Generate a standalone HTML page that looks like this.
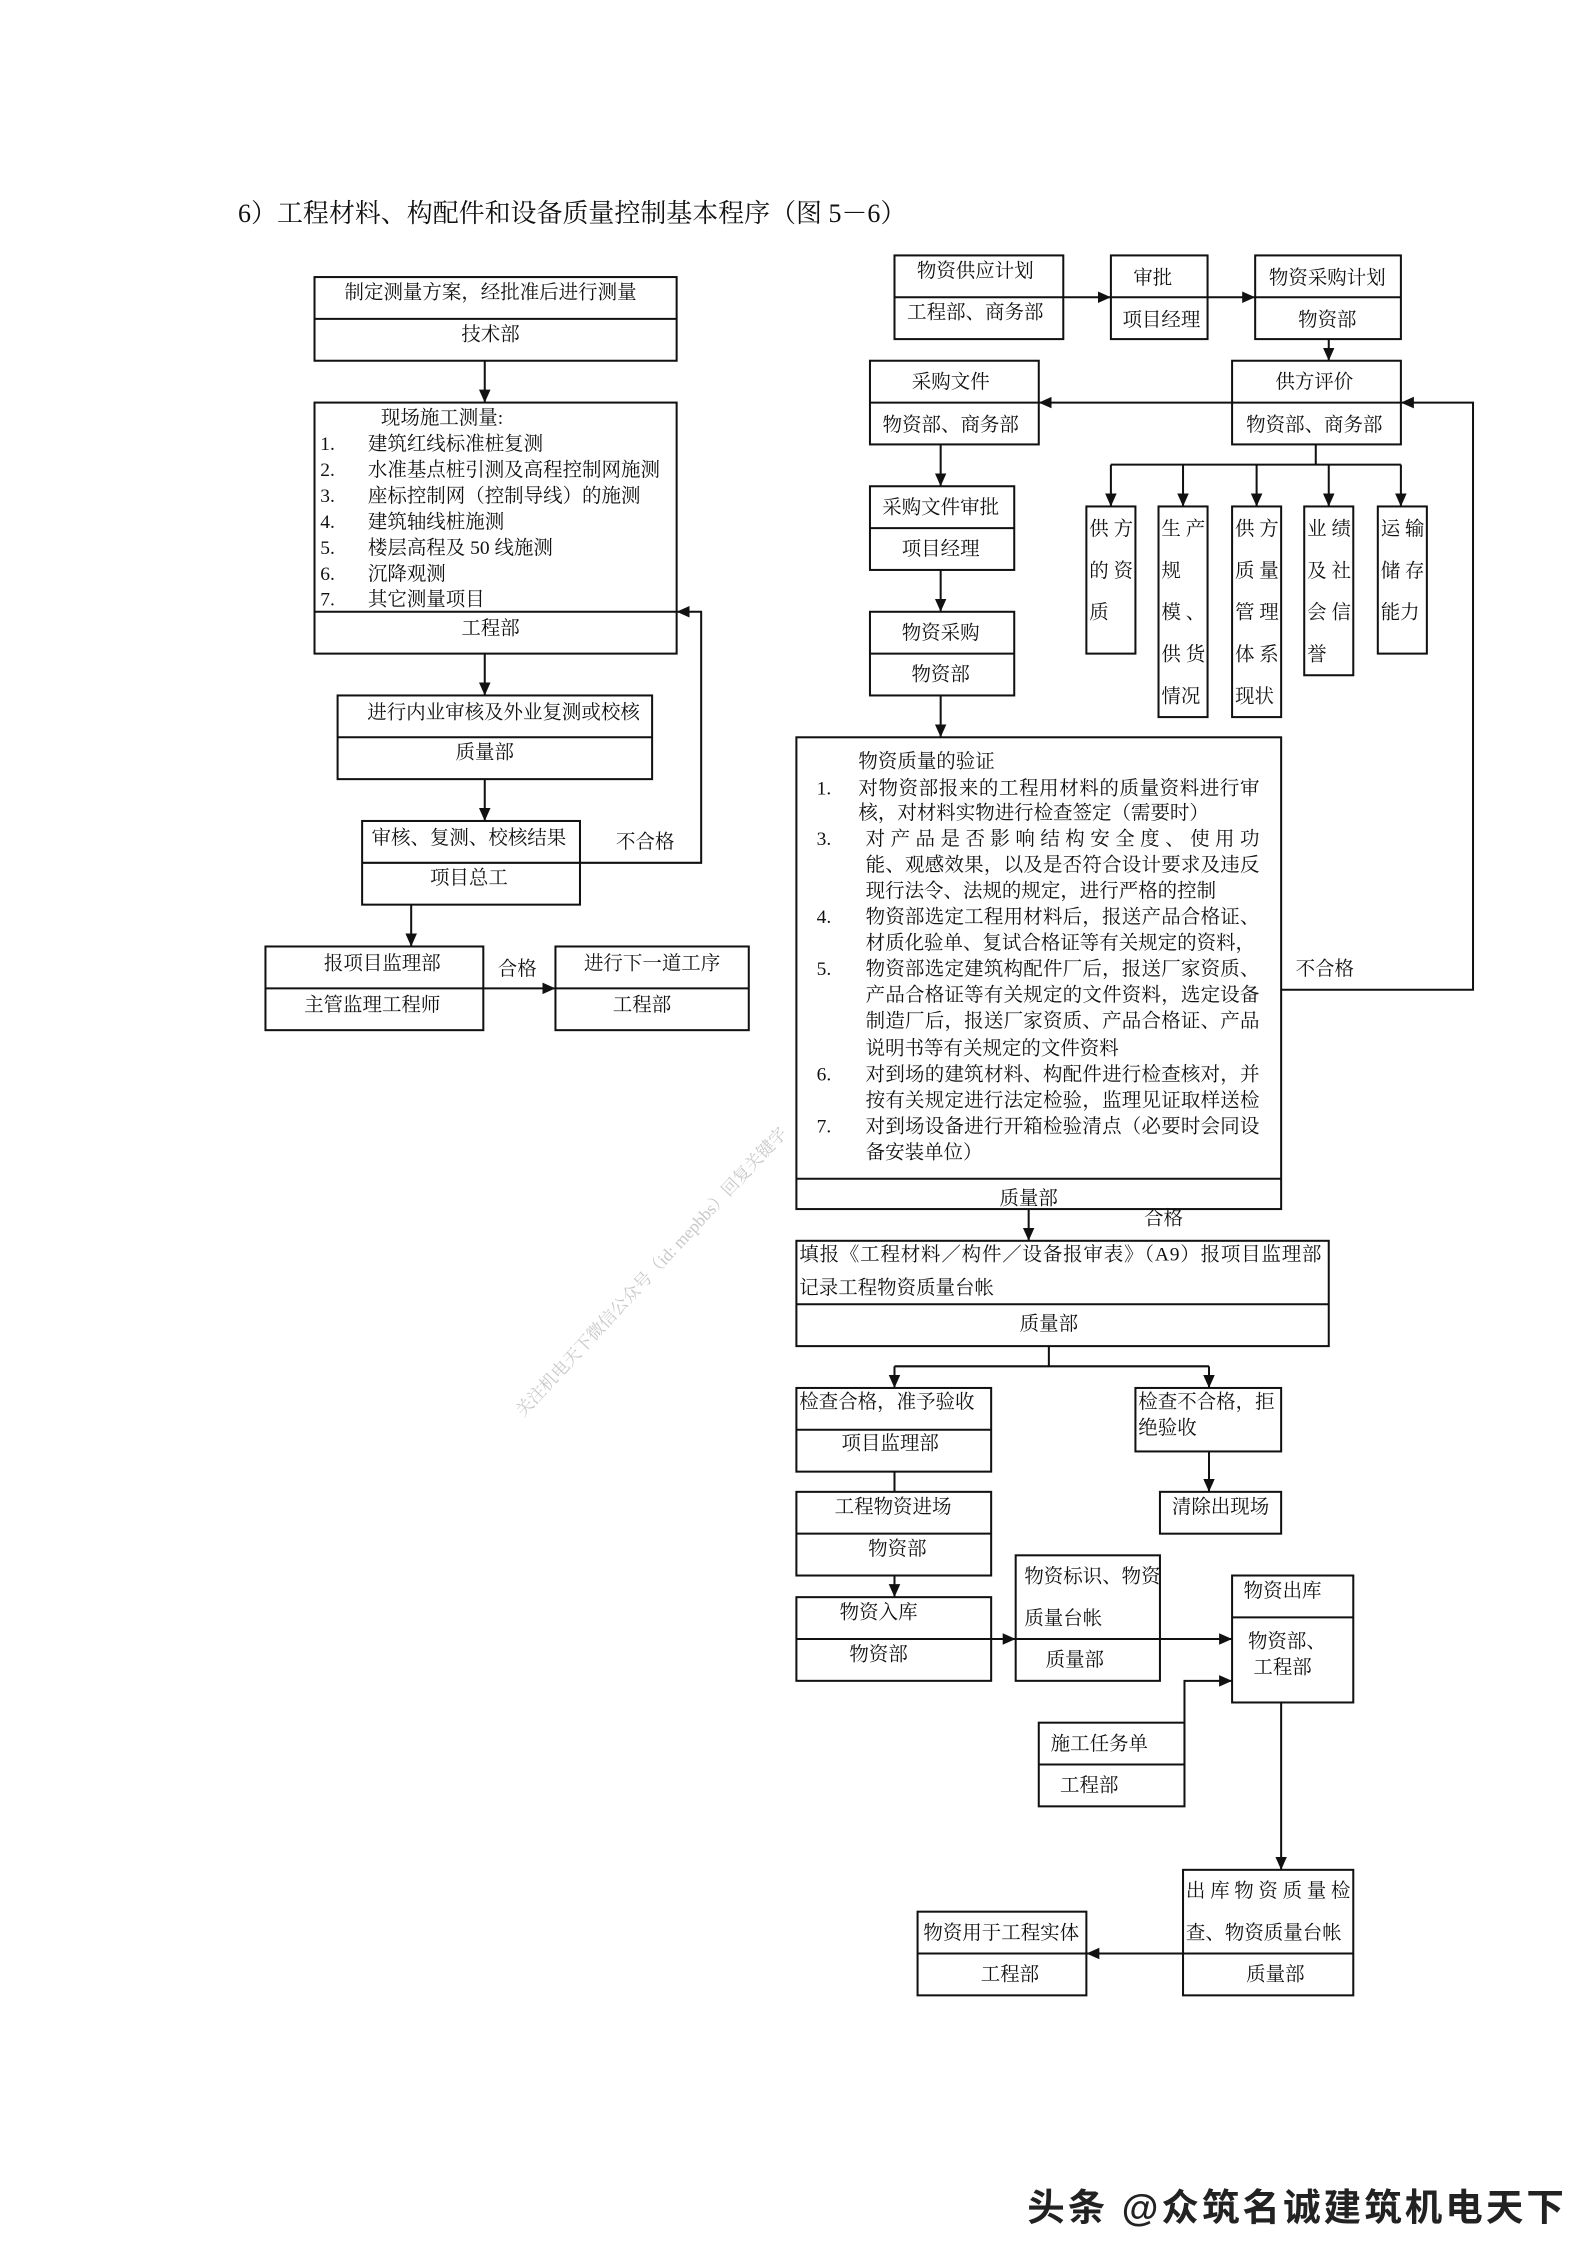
<!DOCTYPE html>
<html><head><meta charset="utf-8"><style>
html,body{margin:0;padding:0;background:#fff;}
svg{display:block;}
text{font-family:"Liberation Serif","Noto Serif CJK SC",serif;font-size:13.5px;fill:#111;dominant-baseline:central;}
.c{text-anchor:middle;}
rect{fill:none;stroke:#111;stroke-width:1.4;}
line,polyline{stroke:#111;stroke-width:1.4;fill:none;}
</style></head><body>
<svg width="1587" height="2245" viewBox="0 0 1100 1556" xmlns="http://www.w3.org/2000/svg">
<defs><marker id="a" markerWidth="10" markerHeight="10" refX="9" refY="5" orient="auto" markerUnits="userSpaceOnUse"><path d="M0,1 L9,5 L0,9 Z" fill="#111"/></marker></defs>
<text x="165" y="148" style="font-size:18px">6）工程材料、构配件和设备质量控制基本程序（图 5－6）</text>

<rect x="218" y="192" width="251" height="58"/><line x1="218" y1="221" x2="469" y2="221"/>
<text class="c" x="340" y="203">制定测量方案，经批准后进行测量</text><text class="c" x="340" y="232">技术部</text>
<line x1="336" y1="250" x2="336" y2="279" marker-end="url(#a)"/>
<rect x="218" y="279" width="251" height="174"/><line x1="218" y1="424" x2="469" y2="424"/>
<text x="264" y="290">现场施工测量:</text>
<text x="222" y="308">1.</text><text x="255" y="308">建筑红线标准桩复测</text>
<text x="222" y="326">2.</text><text x="255" y="326">水准基点桩引测及高程控制网施测</text>
<text x="222" y="344">3.</text><text x="255" y="344">座标控制网（控制导线）的施测</text>
<text x="222" y="362">4.</text><text x="255" y="362">建筑轴线桩施测</text>
<text x="222" y="380">5.</text><text x="255" y="380">楼层高程及 50 线施测</text>
<text x="222" y="398">6.</text><text x="255" y="398">沉降观测</text>
<text x="222" y="416">7.</text><text x="255" y="416">其它测量项目</text>
<text class="c" x="340" y="436">工程部</text>
<line x1="336" y1="453" x2="336" y2="482" marker-end="url(#a)"/>
<rect x="234" y="482" width="218" height="58"/><line x1="234" y1="511" x2="452" y2="511"/>
<text class="c" x="349" y="494">进行内业审核及外业复测或校核</text><text class="c" x="336" y="522">质量部</text>
<line x1="336" y1="540" x2="336" y2="569" marker-end="url(#a)"/>
<rect x="251" y="569" width="151" height="58"/><line x1="251" y1="598" x2="402" y2="598"/>
<text class="c" x="325" y="581">审核、复测、校核结果</text><text class="c" x="325" y="609">项目总工</text>
<polyline points="402,598 486,598 486,424 469,424" marker-end="url(#a)"/>
<text x="427" y="584">不合格</text>
<line x1="285" y1="627" x2="285" y2="656" marker-end="url(#a)"/>
<rect x="184" y="656" width="151" height="58"/><line x1="184" y1="685" x2="335" y2="685"/>
<text class="c" x="265" y="668">报项目监理部</text><text class="c" x="258" y="697">主管监理工程师</text>
<line x1="335" y1="685" x2="385" y2="685" marker-end="url(#a)"/><text x="345" y="672">合格</text>
<rect x="385" y="656" width="134" height="58"/><line x1="385" y1="685" x2="519" y2="685"/>
<text class="c" x="452" y="668">进行下一道工序</text><text class="c" x="445" y="697">工程部</text>

<rect x="620" y="177" width="117" height="58"/><line x1="620" y1="206" x2="737" y2="206"/>
<text class="c" x="676" y="188">物资供应计划</text><text class="c" x="676" y="217">工程部、商务部</text>
<line x1="737" y1="206" x2="770" y2="206" marker-end="url(#a)"/>
<rect x="770" y="177" width="67" height="58"/><line x1="770" y1="206" x2="837" y2="206"/>
<text class="c" x="799" y="193">审批</text><text class="c" x="805" y="222">项目经理</text>
<line x1="837" y1="206" x2="870" y2="206" marker-end="url(#a)"/>
<rect x="870" y="177" width="101" height="58"/><line x1="870" y1="206" x2="971" y2="206"/>
<text class="c" x="920" y="193">物资采购计划</text><text class="c" x="920" y="222">物资部</text>
<line x1="921" y1="235" x2="921" y2="250" marker-end="url(#a)"/>
<rect x="854" y="250" width="117" height="58"/><line x1="854" y1="279" x2="971" y2="279"/>
<text class="c" x="911" y="265">供方评价</text><text class="c" x="911" y="295">物资部、商务部</text>
<line x1="854" y1="279" x2="720" y2="279" marker-end="url(#a)"/>
<rect x="603" y="250" width="117" height="58"/><line x1="603" y1="279" x2="720" y2="279"/>
<text class="c" x="659" y="265">采购文件</text><text class="c" x="659" y="295">物资部、商务部</text>
<line x1="652" y1="308" x2="652" y2="337" marker-end="url(#a)"/>
<rect x="603" y="337" width="100" height="58"/><line x1="603" y1="366" x2="703" y2="366"/>
<text class="c" x="652" y="352">采购文件审批</text><text class="c" x="652" y="381">项目经理</text>
<line x1="652" y1="395" x2="652" y2="424" marker-end="url(#a)"/>
<rect x="603" y="424" width="100" height="58"/><line x1="603" y1="453" x2="703" y2="453"/>
<text class="c" x="652" y="439">物资采购</text><text class="c" x="652" y="468">物资部</text>
<line x1="652" y1="482" x2="652" y2="511" marker-end="url(#a)"/>

<line x1="912" y1="308" x2="912" y2="322"/><line x1="770" y1="322" x2="971" y2="322"/>
<line x1="770" y1="322" x2="770" y2="351" marker-end="url(#a)"/>
<line x1="820" y1="322" x2="820" y2="351" marker-end="url(#a)"/>
<line x1="871" y1="322" x2="871" y2="351" marker-end="url(#a)"/>
<line x1="921" y1="322" x2="921" y2="351" marker-end="url(#a)"/>
<line x1="971" y1="322" x2="971" y2="351" marker-end="url(#a)"/>
<rect x="753" y="351" width="34" height="102"/>
<text x="755" y="367">供 方</text><text x="755" y="396">的 资</text><text x="755" y="425">质</text>
<rect x="803" y="351" width="34" height="146"/>
<text x="805" y="367">生 产</text><text x="805" y="396">规</text><text x="805" y="425">模 、</text><text x="805" y="454">供 货</text><text x="805" y="483">情况</text>
<rect x="854" y="351" width="34" height="146"/>
<text x="856" y="367">供 方</text><text x="856" y="396">质 量</text><text x="856" y="425">管 理</text><text x="856" y="454">体 系</text><text x="856" y="483">现状</text>
<rect x="904" y="351" width="34" height="117"/>
<text x="906" y="367">业 绩</text><text x="906" y="396">及 社</text><text x="906" y="425">会 信</text><text x="906" y="454">誉</text>
<rect x="955" y="351" width="34" height="102"/>
<text x="957" y="367">运 输</text><text x="957" y="396">储 存</text><text x="957" y="425">能力</text>

<rect x="552" y="511" width="336" height="327"/><line x1="552" y1="817" x2="888" y2="817"/>
<text x="595" y="528">物资质量的验证</text>
<text x="566" y="547">1.</text><text x="595" y="547" textLength="278">对物资部报来的工程用材料的质量资料进行审</text>
<text x="595" y="564">核，对材料实物进行检查签定（需要时）</text>
<text x="566" y="582">3.</text><text x="600" y="582" textLength="273">对产品是否影响结构安全度、使用功</text>
<text x="600" y="600" textLength="273">能、观感效果，以及是否符合设计要求及违反</text>
<text x="600" y="618">现行法令、法规的规定，进行严格的控制</text>
<text x="566" y="636">4.</text><text x="600" y="636" textLength="273">物资部选定工程用材料后，报送产品合格证、</text>
<text x="600" y="654">材质化验单、复试合格证等有关规定的资料，</text>
<text x="566" y="672">5.</text><text x="600" y="672" textLength="273">物资部选定建筑构配件厂后，报送厂家资质、</text>
<text x="600" y="690" textLength="273">产品合格证等有关规定的文件资料，选定设备</text>
<text x="600" y="708" textLength="273">制造厂后，报送厂家资质、产品合格证、产品</text>
<text x="600" y="727">说明书等有关规定的文件资料</text>
<text x="566" y="745">6.</text><text x="600" y="745" textLength="273">对到场的建筑材料、构配件进行检查核对，并</text>
<text x="600" y="763" textLength="273">按有关规定进行法定检验，监理见证取样送检</text>
<text x="566" y="781">7.</text><text x="600" y="781" textLength="273">对到场设备进行开箱检验清点（必要时会同设</text>
<text x="600" y="799">备安装单位）</text>
<text class="c" x="713" y="831">质量部</text>
<polyline points="888,686 1021,686 1021,279 971,279" marker-end="url(#a)"/>
<text x="898" y="672">不合格</text>
<line x1="713" y1="838" x2="713" y2="860" marker-end="url(#a)"/>
<text x="793" y="845">合格</text>

<rect x="552" y="860" width="369" height="73"/><line x1="552" y1="904" x2="921" y2="904"/>
<text x="554" y="870" textLength="362">填报《工程材料／构件／设备报审表》（A9）报项目监理部</text>
<text x="554" y="893">记录工程物资质量台帐</text>
<text class="c" x="727" y="918">质量部</text>
<line x1="727" y1="933" x2="727" y2="947"/><line x1="620" y1="947" x2="838" y2="947"/>
<line x1="620" y1="947" x2="620" y2="962" marker-end="url(#a)"/>
<line x1="838" y1="947" x2="838" y2="962" marker-end="url(#a)"/>
<rect x="552" y="962" width="135" height="58"/><line x1="552" y1="991" x2="687" y2="991"/>
<text x="554" y="972">检查合格，准予验收</text><text class="c" x="617" y="1001">项目监理部</text>
<rect x="787" y="962" width="101" height="44"/>
<text x="789" y="972">检查不合格，拒</text><text x="789" y="990">绝验收</text>
<line x1="838" y1="1006" x2="838" y2="1034" marker-end="url(#a)"/>
<rect x="804" y="1034" width="84" height="29"/>
<text class="c" x="846" y="1045">清除出现场</text>
<line x1="620" y1="1020" x2="620" y2="1034"/>
<rect x="552" y="1034" width="135" height="58"/><line x1="552" y1="1063" x2="687" y2="1063"/>
<text class="c" x="619" y="1045">工程物资进场</text><text class="c" x="622" y="1074">物资部</text>
<line x1="620" y1="1092" x2="620" y2="1107" marker-end="url(#a)"/>
<rect x="552" y="1107" width="135" height="58"/><line x1="552" y1="1136" x2="687" y2="1136"/>
<text class="c" x="609" y="1118">物资入库</text><text class="c" x="609" y="1147">物资部</text>
<line x1="687" y1="1136" x2="704" y2="1136" marker-end="url(#a)"/>
<rect x="704" y="1078" width="100" height="87"/><line x1="704" y1="1136" x2="804" y2="1136"/>
<text x="710" y="1093">物资标识、物资</text><text x="710" y="1122">质量台帐</text><text class="c" x="745" y="1151">质量部</text>
<line x1="804" y1="1136" x2="854" y2="1136" marker-end="url(#a)"/>
<rect x="854" y="1092" width="84" height="88"/><line x1="854" y1="1121" x2="938" y2="1121"/>
<text class="c" x="889" y="1103">物资出库</text><text class="c" x="892" y="1138">物资部、</text><text class="c" x="889" y="1156">工程部</text>
<rect x="720" y="1194" width="101" height="58"/><line x1="720" y1="1223" x2="821" y2="1223"/>
<text class="c" x="762" y="1209">施工任务单</text><text class="c" x="755" y="1238">工程部</text>
<polyline points="821,1223 821,1165 854,1165" marker-end="url(#a)"/>
<line x1="888" y1="1180" x2="888" y2="1296" marker-end="url(#a)"/>
<rect x="820" y="1296" width="118" height="87"/><line x1="820" y1="1354" x2="938" y2="1354"/>
<text x="822" y="1311" textLength="114">出库物资质量检</text><text x="822" y="1340">查、物资质量台帐</text><text class="c" x="884" y="1369">质量部</text>
<line x1="820" y1="1354" x2="753" y2="1354" marker-end="url(#a)"/>
<rect x="636" y="1325" width="117" height="58"/><line x1="636" y1="1354" x2="753" y2="1354"/>
<text class="c" x="694" y="1340">物资用于工程实体</text><text class="c" x="700" y="1369">工程部</text>

<text x="360" y="980" transform="rotate(-47 360 980)" style="font-size:12px;fill:#c8c8c8">关注机电天下微信公众号（id: mepbbs）回复关键字</text>
<text x="712" y="1530" textLength="372" style="font-family:'Liberation Sans','Noto Sans CJK SC',sans-serif;font-size:26px;font-weight:bold;fill:#222">头条 @众筑名诚建筑机电天下</text>
</svg>
</body></html>
